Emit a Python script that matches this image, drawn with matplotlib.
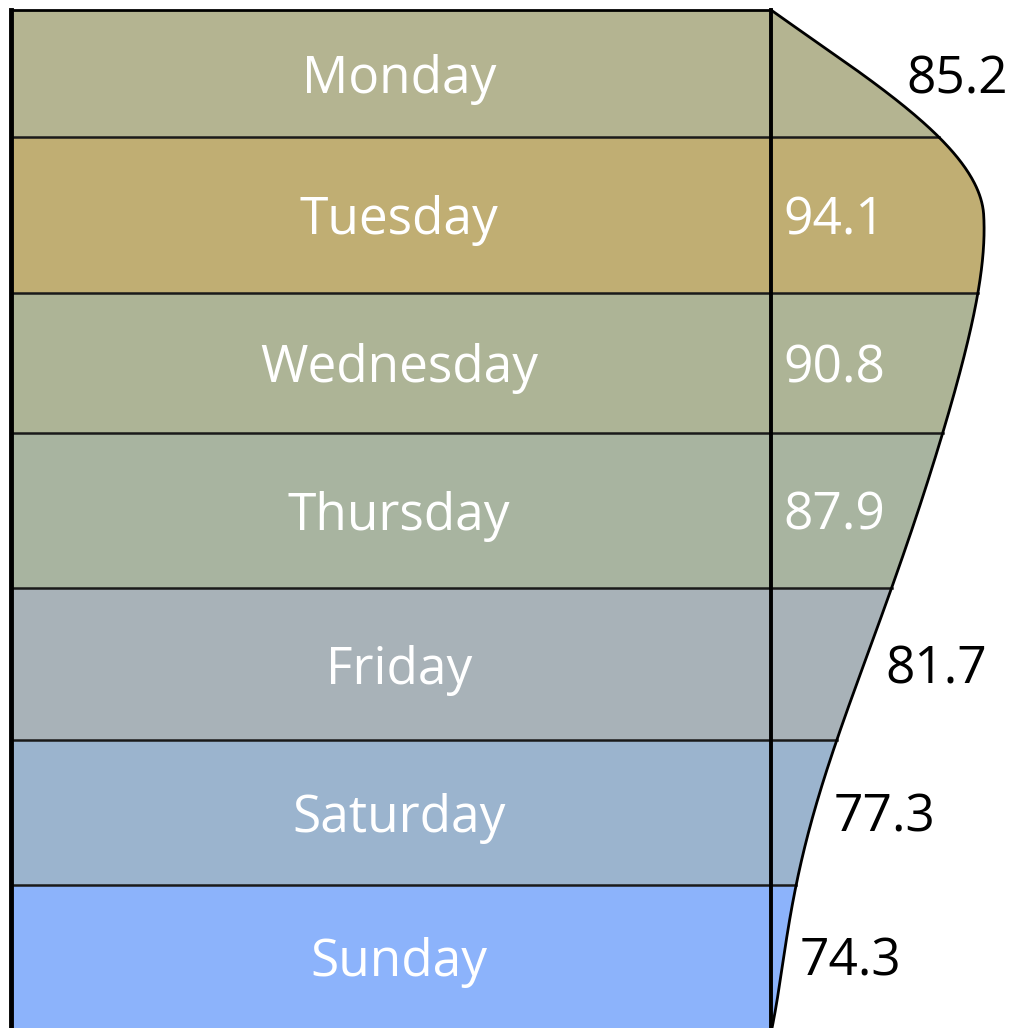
import numpy as np
import matplotlib
matplotlib.use("Agg")
import matplotlib.pyplot as plt

days = ["Monday", "Tuesday", "Wednesday", "Thursday", "Friday", "Saturday", "Sunday"]
scores = [85.2, 94.1, 90.8, 87.9, 81.7, 77.3, 74.3]
colors = ["#B4B491", "#C0AE73", "#ADB496", "#A8B4A0", "#A8B2B8", "#9BB4CE", "#8CB3FB"]

# layout (pixel coords, y grows downward)
W, H = 1018, 1028
left, split = 11, 771
edges = [10, 137, 293, 433, 588, 740, 885, 1028]
px_per_pt = 10.37
ref_score, ref_off = 84.35, 117
top_slope = 1.4
fs = 37
dy = 6

plt.rcParams['font.family'] = ['Open Sans', 'DejaVu Sans']

fig = plt.figure(figsize=(W / 100, H / 100), dpi=100)
ax = fig.add_axes([0, 0, 1, 1])
ax.set_xlim(0, W)
ax.set_ylim(H, 0)
ax.axis("off")

mids = [(edges[i] + edges[i + 1]) / 2 for i in range(len(days))]
kx = [split] + [split + ref_off + px_per_pt * (s - ref_score) for s in scores] + [split + 1]
ky = [edges[0]] + mids + [edges[-1]]
kx, ky = np.array(kx), np.array(ky)

# smooth least-squares curve through the anchors, ends pinned harder
span = edges[-1] - edges[0]
tk = (ky - edges[0]) / span
wts = np.ones(len(tk))
wts[0] = wts[-1] = 12
coef = np.polyfit(tk, kx, 6, w=wts)
dcoef = np.polyder(coef)

# top part (down to the peak row): taper from the top corner, joined smoothly
y1 = mids[1]
x1 = np.polyval(coef, (y1 - edges[0]) / span)
m1 = np.polyval(dcoef, (y1 - edges[0]) / span) / span


def edge_x(y):
    y = np.atleast_1d(np.asarray(y, dtype=float))
    out = np.polyval(coef, (y - edges[0]) / span)
    top = y < y1
    h = y1 - edges[0]
    t = (y[top] - edges[0]) / h
    out[top] = ((2 * t**3 - 3 * t**2 + 1) * split + (t**3 - 2 * t**2 + t) * h * top_slope
                + (-2 * t**3 + 3 * t**2) * x1 + (t**3 - t**2) * h * m1)
    return out


for i, day in enumerate(days):
    yy = np.linspace(edges[i], edges[i + 1], 120)
    xx = edge_x(yy)
    poly_x = np.concatenate([[left], xx, [left]])
    poly_y = np.concatenate([[edges[i]], yy, [edges[i + 1]]])
    ax.fill(poly_x, poly_y, color=colors[i], lw=0, zorder=1)
    if i > 0:
        ax.plot([left, edge_x(edges[i])[0]], [edges[i], edges[i]], color="#1a1a1a", lw=1.8, zorder=3)
    ax.text((left + split) / 2 + 8, mids[i] + dy, day, color="white", fontsize=fs,
            ha="center", va="center", zorder=4)
    s = scores[i]
    if s > 86:
        ax.text(split + 12, mids[i] + dy, f"{s}", color="white", fontsize=fs,
                ha="left", va="center", zorder=4)
    else:
        xmax = edge_x(np.linspace(mids[i] - 25, mids[i] + 25, 30)).max()
        ax.text(min(xmax + 12, W - 110), mids[i] + dy, f"{s}", color="black", fontsize=fs,
                ha="left", va="center", zorder=4)

yy = np.linspace(edges[0], edges[-1], 800)
ax.plot(edge_x(yy), yy, color="black", lw=2, zorder=3)
ax.plot([left, split], [edges[0], edges[0]], color="black", lw=2, zorder=3)
ax.plot([left, left], [edges[0], edges[-1]], color="black", lw=3.5, zorder=3)
ax.plot([split, split], [edges[0], edges[-1]], color="black", lw=2.8, zorder=3)

fig.savefig("out.png", dpi=100)
